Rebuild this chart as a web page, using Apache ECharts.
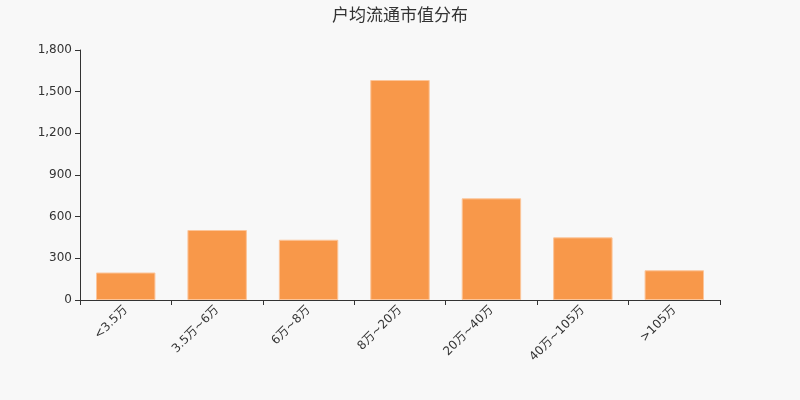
<!DOCTYPE html>
<html>
<head>
<meta charset="utf-8">
<script src="https://cdn.jsdelivr.net/npm/echarts@6/dist/echarts.min.js"></script>
<style>
  html, body { margin: 0; padding: 0; background: #f8f8f8; }
  #main { width: 800px; height: 400px; }
</style>
</head>
<body>
<div id="main"></div>
<script>
var categories = ['<3.5万', '3.5万~6万', '6万~8万', '8万~20万', '20万~40万', '40万~105万', '>105万'];
var holders = [198, 504, 434, 1584, 732, 451, 214];
var yTicks = { min: 0, max: 1800, interval: 300 };

var fontStack = '"DejaVu Sans", "Noto Sans CJK SC", sans-serif';
var chart = echarts.init(document.getElementById('main'));
var option = {
    backgroundColor: '#f8f8f8',
    title: {
        text: '户均流通市值分布',
        left: 'center',
        top: 3,
        textStyle: { fontSize: 17, fontWeight: 'normal', color: '#333', fontFamily: fontStack }
    },
    grid: { left: 80, right: 80, top: 50, bottom: 100 },
    xAxis: {
        type: 'category',
        data: categories,
        axisLine: { lineStyle: { color: '#333' } },
        axisTick: { show: true, alignWithLabel: false, length: 5, lineStyle: { color: '#333' } },
        axisLabel: { rotate: 45, color: '#333', fontSize: 12, fontFamily: fontStack, interval: 0 }
    },
    yAxis: {
        type: 'value',
        min: yTicks.min,
        max: yTicks.max,
        interval: yTicks.interval,
        axisLine: { show: true, lineStyle: { color: '#333' } },
        axisTick: { show: true, length: 5, lineStyle: { color: '#333' } },
        splitLine: { show: false },
        axisLabel: { color: '#333', fontSize: 12, fontFamily: fontStack }
    },
    series: [{
        type: 'bar',
        data: holders,
        barWidth: '65%',
        itemStyle: { color: '#f8984a', borderColor: '#fcc59a', borderWidth: 1 }
    }]
};
chart.setOption(option);
</script>
</body>
</html>
